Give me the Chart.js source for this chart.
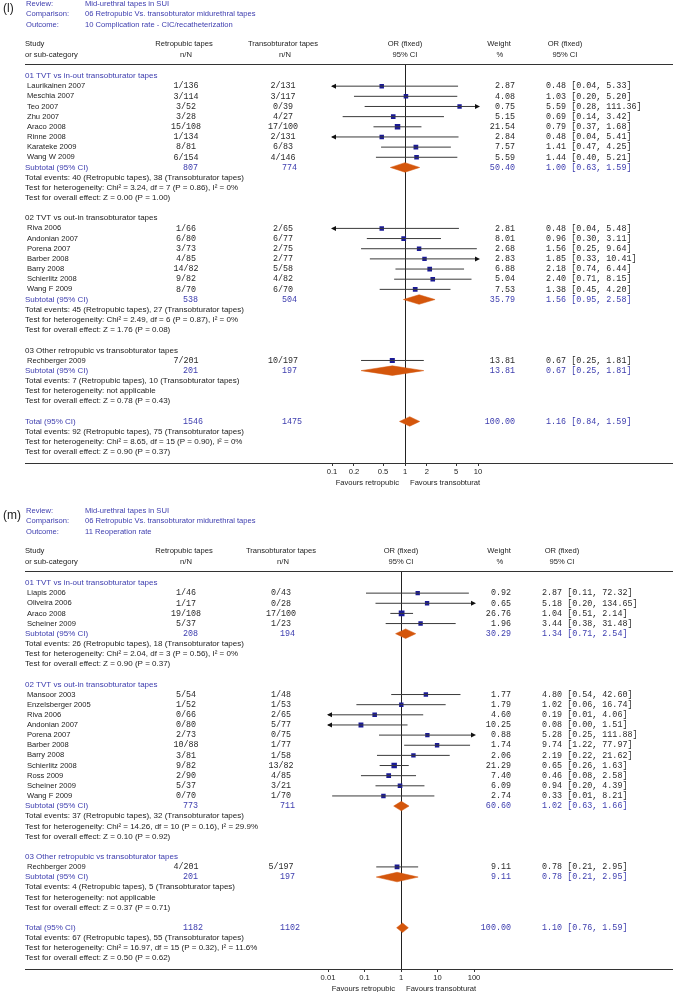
<!DOCTYPE html>
<html>
<head>
<meta charset="utf-8">
<script src="https://cdn.jsdelivr.net/npm/chart.js@4.4.0/dist/chart.umd.min.js"></script>
<style>
  html, body { margin: 0; padding: 0; background: #fff; }
  #wrap { position: relative; width: 673px; height: 992px; }
  canvas { position: absolute; left: 0; top: 0; }
</style>
</head>
<body>
<div id="wrap">
  <canvas id="plotL" width="673" height="992"></canvas>
  <canvas id="plotM" width="673" height="992"></canvas>
</div>
<script>
// ---------- panel (l): complication rate - CIC/recatheterization ----------
const lGroupNames = ['01 TVT vs in-out transobturator tapes', '02 TVT vs out-in transobturator tapes', '03 Other retropubic vs transobturator tapes'];
const lStudyGroup = [0, 0, 0, 0, 0, 0, 0, 0, 1, 1, 1, 1, 1, 1, 1, 2];
const lStudies = ['Laurikainen 2007', 'Meschia 2007', 'Teo 2007', 'Zhu 2007', 'Araco 2008', 'Rinne 2008', 'Karateke 2009', 'Wang W 2009',
  'Riva 2006', 'Andonian 2007', 'Porena 2007', 'Barber 2008', 'Barry 2008', 'Schierlitz 2008', 'Wang F 2009', 'Rechberger 2009'];
const lRetro = ['1/136', '3/114', '3/52', '3/28', '15/108', '1/134', '8/81', '6/154', '1/66', '6/80', '3/73', '4/85', '14/82', '9/82', '8/70', '7/201'];
const lTrans = ['2/131', '3/117', '0/39', '4/27', '17/100', '2/131', '6/83', '4/146', '2/65', '6/77', '2/75', '2/77', '5/58', '4/82', '6/70', '10/197'];
const lWeight = [2.87, 4.08, 0.75, 5.15, 21.54, 2.84, 7.57, 5.59, 2.81, 8.01, 2.68, 2.83, 6.88, 5.04, 7.53, 13.81];
const lOR = [0.48, 1.03, 5.59, 0.69, 0.79, 0.48, 1.41, 1.44, 0.48, 0.96, 1.56, 1.85, 2.18, 2.40, 1.38, 0.67];
const lLow = [0.04, 0.20, 0.28, 0.14, 0.37, 0.04, 0.47, 0.40, 0.04, 0.30, 0.25, 0.33, 0.74, 0.71, 0.45, 0.25];
const lHigh = [5.33, 5.20, 111.36, 3.42, 1.68, 5.41, 4.25, 5.21, 5.48, 3.11, 9.64, 10.41, 6.44, 8.15, 4.20, 1.81];
const lSubN1 = [807, 538, 201];
const lSubN2 = [774, 504, 197];
const lSubWeight = [50.40, 35.79, 13.81];
const lSubOR = [1.00, 1.56, 0.67];
const lSubLow = [0.63, 0.95, 0.25];
const lSubHigh = [1.59, 2.58, 1.81];
const lSubNotes = [
  ['Total events: 40 (Retropubic tapes), 38 (Transobturator tapes)', 'Test for heterogeneity: Chi\u00b2 = 3.24, df = 7 (P = 0.86), I\u00b2 = 0%', 'Test for overall effect: Z = 0.00 (P = 1.00)'],
  ['Total events: 45 (Retropubic tapes), 27 (Transobturator tapes)', 'Test for heterogeneity: Chi\u00b2 = 2.49, df = 6 (P = 0.87), I\u00b2 = 0%', 'Test for overall effect: Z = 1.76 (P = 0.08)'],
  ['Total events: 7 (Retropubic tapes), 10 (Transobturator tapes)', 'Test for heterogeneity: not applicable', 'Test for overall effect: Z = 0.78 (P = 0.43)']
];
const lTotal = [1546, 1475, 100.00, 1.16, 0.84, 1.59];
const lTotalNotes = ['Total events: 92 (Retropubic tapes), 75 (Transobturator tapes)', 'Test for heterogeneity: Chi\u00b2 = 8.65, df = 15 (P = 0.90), I\u00b2 = 0%', 'Test for overall effect: Z = 0.90 (P = 0.37)'];
const lTicks = [0.1, 0.2, 0.5, 1, 2, 5, 10];

// ---------- panel (m): reoperation rate ----------
const mGroupNames = ['01 TVT vs in-out transobturator tapes', '02 TVT vs out-in transobturator tapes', '03 Other retropubic vs transobturator tapes'];
const mStudyGroup = [0, 0, 0, 0, 1, 1, 1, 1, 1, 1, 1, 1, 1, 1, 1, 2];
const mStudies = ['Liapis 2006', 'Oliveira 2006', 'Araco 2008', 'Scheiner 2009',
  'Mansoor 2003', 'Enzelsberger 2005', 'Riva 2006', 'Andonian 2007', 'Porena 2007', 'Barber 2008', 'Barry 2008', 'Schierlitz 2008', 'Ross 2009', 'Scheiner 2009', 'Wang F 2009',
  'Rechberger 2009'];
const mRetro = ['1/46', '1/17', '19/108', '5/37', '5/54', '1/52', '0/66', '0/80', '2/73', '10/88', '3/81', '9/82', '2/90', '5/37', '0/70', '4/201'];
const mTrans = ['0/43', '0/28', '17/100', '1/23', '1/48', '1/53', '2/65', '5/77', '0/75', '1/77', '1/58', '13/82', '4/85', '3/21', '1/70', '5/197'];
const mWeight = [0.92, 0.65, 26.76, 1.96, 1.77, 1.79, 4.60, 10.25, 0.88, 1.74, 2.06, 21.29, 7.40, 6.09, 2.74, 9.11];
const mOR = [2.87, 5.18, 1.04, 3.44, 4.80, 1.02, 0.19, 0.08, 5.28, 9.74, 2.19, 0.65, 0.46, 0.94, 0.33, 0.78];
const mLow = [0.11, 0.20, 0.51, 0.38, 0.54, 0.06, 0.009, 0.004, 0.25, 1.22, 0.22, 0.26, 0.08, 0.20, 0.013, 0.21];
const mHigh = [72.32, 134.65, 2.14, 31.48, 42.60, 16.74, 4.06, 1.51, 111.88, 77.97, 21.62, 1.63, 2.58, 4.39, 8.21, 2.95];
const mSubN1 = [208, 773, 201];
const mSubN2 = [194, 711, 197];
const mSubWeight = [30.29, 60.60, 9.11];
const mSubOR = [1.34, 1.02, 0.78];
const mSubLow = [0.71, 0.63, 0.21];
const mSubHigh = [2.54, 1.66, 2.95];
const mSubNotes = [
  ['Total events: 26 (Retropubic tapes), 18 (Transobturator tapes)', 'Test for heterogeneity: Chi\u00b2 = 2.04, df = 3 (P = 0.56), I\u00b2 = 0%', 'Test for overall effect: Z = 0.90 (P = 0.37)'],
  ['Total events: 37 (Retropubic tapes), 32 (Transobturator tapes)', 'Test for heterogeneity: Chi\u00b2 = 14.26, df = 10 (P = 0.16), I\u00b2 = 29.9%', 'Test for overall effect: Z = 0.10 (P = 0.92)'],
  ['Total events: 4 (Retropubic tapes), 5 (Transobturator tapes)', 'Test for heterogeneity: not applicable', 'Test for overall effect: Z = 0.37 (P = 0.71)']
];
const mTotal = [1182, 1102, 100.00, 1.10, 0.76, 1.59];
const mTotalNotes = ['Total events: 67 (Retropubic tapes), 55 (Transobturator tapes)', 'Test for heterogeneity: Chi\u00b2 = 16.97, df = 15 (P = 0.32), I\u00b2 = 11.6%', 'Test for overall effect: Z = 0.50 (P = 0.62)'];
const mTicks = [0.01, 0.1, 1, 10, 100];

const W = 673, H = 992;
const BLUE = '#3c3cae', INK = '#222', NUM = '#2a2a2a', NAVY = '#1a1a96', ORANGE = '#d4560c', LINE = '#3a3a3a';
const SANS = '"Liberation Sans", Arial, sans-serif';
const MONO = '"Liberation Mono", "Courier New", monospace';

const panelL = {
  canvas: 'plotL', letter: '(l)', outcome: '10 Complication rate - CIC/recatheterization',
  groupNames: lGroupNames, groupBlue: [true, false, false], studyGroup: lStudyGroup, studies: lStudies,
  retro: lRetro, trans: lTrans, weight: lWeight, or: lOR, low: lLow, high: lHigh,
  subN1: lSubN1, subN2: lSubN2, subWeight: lSubWeight, subOR: lSubOR, subLow: lSubLow, subHigh: lSubHigh,
  subNotes: lSubNotes, total: lTotal, totalNotes: lTotalNotes, ticks: lTicks, xMin: 0.1, xMax: 10,
  row0: 76, rowH: 10.16, axisY: 463, plotLeft: 332, plotRight: 478,
  colRetro: 186, colTrans: 283, colSub1: 183, colSub2: 282, colWeight: 515, colCI: 546, colWeightHead: 499, colCIHead: 565
};
const panelM = {
  canvas: 'plotM', letter: '(m)', outcome: '11 Reoperation rate',
  groupNames: mGroupNames, groupBlue: [true, true, true], studyGroup: mStudyGroup, studies: mStudies,
  retro: mRetro, trans: mTrans, weight: mWeight, or: mOR, low: mLow, high: mHigh,
  subN1: mSubN1, subN2: mSubN2, subWeight: mSubWeight, subOR: mSubOR, subLow: mSubLow, subHigh: mSubHigh,
  subNotes: mSubNotes, total: mTotal, totalNotes: mTotalNotes, ticks: mTicks, xMin: 0.01, xMax: 100,
  row0: 583, rowH: 10.14, axisY: 969, plotLeft: 328, plotRight: 474,
  colRetro: 186, colTrans: 281, colSub1: 183, colSub2: 280, colWeight: 511, colCI: 542, colWeightHead: 499, colCIHead: 562
};

function layoutRows(p) {
  const rows = [];
  let r = 0;
  p.groupNames.forEach((g, gi) => {
    rows.push({ kind: 'group', gi, y: r++ });
    p.studies.forEach((s, i) => { if (p.studyGroup[i] === gi) rows.push({ kind: 'study', i, y: r++ }); });
    rows.push({ kind: 'sub', gi, y: r++ });
    p.subNotes[gi].forEach(t => rows.push({ kind: 'note', text: t, y: r++ }));
    r++;
  });
  rows.push({ kind: 'total', y: r++ });
  p.totalNotes.forEach(t => rows.push({ kind: 'note', text: t, y: r++ }));
  return rows;
}

function ciText(or, lo, hi) {
  return or.toFixed(2) + ' [' + lo.toFixed(2) + ', ' + hi.toFixed(2) + ']';
}

function drawPanel(p) {
  const rows = layoutRows(p);
  const headLineY = p.row0 - 11.5;
  const yMin = (headLineY - p.row0) / p.rowH;
  const yMax = (p.axisY - p.row0) / p.rowH;
  const clamp = v => Math.min(p.xMax, Math.max(p.xMin, v));

  const studyRows = rows.filter(r => r.kind === 'study');
  const ciData = [];
  studyRows.forEach(r => {
    ciData.push({ x: clamp(p.low[r.i]), y: r.y }, { x: clamp(p.high[r.i]), y: r.y }, { x: clamp(p.high[r.i]), y: null });
  });

  const diamonds = [];
  rows.filter(r => r.kind === 'sub' || r.kind === 'total').forEach(r => {
    const or = r.kind === 'sub' ? p.subOR[r.gi] : p.total[3];
    const lo = r.kind === 'sub' ? p.subLow[r.gi] : p.total[4];
    const hi = r.kind === 'sub' ? p.subHigh[r.gi] : p.total[5];
    const h = 0.47;
    diamonds.push({
      type: 'scatter', showLine: true, fill: 'shape', pointRadius: 0, borderWidth: 0.5,
      borderColor: ORANGE, backgroundColor: ORANGE,
      data: [{ x: lo, y: r.y }, { x: or, y: r.y - h }, { x: hi, y: r.y }, { x: or, y: r.y + h }, { x: lo, y: r.y }]
    });
  });

  const textPlugin = {
    id: 'forestText',
    afterDatasetsDraw(chart) {
      const ctx = chart.ctx, xs = chart.scales.x, ys = chart.scales.y;
      // arrow heads for intervals that leave the axis range
      ctx.save();
      ctx.fillStyle = '#111';
      studyRows.forEach(r => {
        const py = ys.getPixelForValue(r.y);
        if (p.low[r.i] < p.xMin) {
          const px = xs.getPixelForValue(p.xMin);
          ctx.beginPath(); ctx.moveTo(px - 1, py); ctx.lineTo(px + 4, py - 2.5); ctx.lineTo(px + 4, py + 2.5); ctx.closePath(); ctx.fill();
        }
        if (p.high[r.i] > p.xMax) {
          const px = xs.getPixelForValue(p.xMax);
          ctx.beginPath(); ctx.moveTo(px + 2, py); ctx.lineTo(px - 3, py - 2.5); ctx.lineTo(px - 3, py + 2.5); ctx.closePath(); ctx.fill();
        }
      });
      ctx.restore();
    },
    afterDraw(chart) {
      const ctx = chart.ctx, xs = chart.scales.x, ys = chart.scales.y;
      const txt = (s, x, y, align, font, color) => {
        ctx.font = font; ctx.fillStyle = color; ctx.textAlign = align; ctx.fillText(s, x, y);
      };
      const sans = '7.6px ' + SANS, note = '8px ' + SANS, mono = '8.4px ' + MONO;
      const center = xs.getPixelForValue(1);
      ctx.save();
      ctx.textBaseline = 'middle';
      // title block
      txt(p.letter, 3, p.row0 - 67, 'left', '12px ' + SANS, INK);
      txt('Review:', 26, p.row0 - 72.5, 'left', sans, BLUE);
      txt('Mid-urethral tapes in SUI', 85, p.row0 - 72.5, 'left', sans, BLUE);
      txt('Comparison:', 26, p.row0 - 62, 'left', sans, BLUE);
      txt('06 Retropubic Vs. transobturator midurethral tapes', 85, p.row0 - 62, 'left', sans, BLUE);
      txt('Outcome:', 26, p.row0 - 51.5, 'left', sans, BLUE);
      txt(p.outcome, 85, p.row0 - 51.5, 'left', sans, BLUE);
      // column headers
      const h1 = p.row0 - 32, h2 = p.row0 - 21.5;
      txt('Study', 25, h1, 'left', sans, INK);
      txt('or sub-category', 25, h2, 'left', sans, INK);
      txt('Retropubic tapes', p.colRetro - 2, h1, 'center', sans, INK);
      txt('n/N', p.colRetro, h2, 'center', sans, INK);
      txt('Transobturator tapes', p.colTrans, h1, 'center', sans, INK);
      txt('n/N', p.colTrans + 2, h2, 'center', sans, INK);
      txt('OR (fixed)', center, h1, 'center', sans, INK);
      txt('95% CI', center, h2, 'center', sans, INK);
      txt('Weight', p.colWeightHead, h1, 'center', sans, INK);
      txt('%', p.colWeightHead + 1, h2, 'center', sans, INK);
      txt('OR (fixed)', p.colCIHead, h1, 'center', sans, INK);
      txt('95% CI', p.colCIHead, h2, 'center', sans, INK);
      // full width rules
      ctx.strokeStyle = '#333'; ctx.lineWidth = 1;
      const hy = Math.round(ys.getPixelForValue(yMin)) - 0.5;
      const by = Math.round(chart.chartArea.bottom) + 0.5;
      ctx.beginPath(); ctx.moveTo(25, hy); ctx.lineTo(W, hy); ctx.moveTo(25, by); ctx.lineTo(W, by); ctx.stroke();
      // rows
      rows.forEach(r => {
        const y = ys.getPixelForValue(r.y);
        if (r.kind === 'group') {
          txt(p.groupNames[r.gi], 25, y, 'left', note, p.groupBlue[r.gi] ? BLUE : INK);
        } else if (r.kind === 'study') {
          txt(p.studies[r.i], 27, y, 'left', sans, INK);
          txt(p.retro[r.i], p.colRetro, y, 'center', mono, NUM);
          txt(p.trans[r.i], p.colTrans, y, 'center', mono, NUM);
          txt(p.weight[r.i].toFixed(2), p.colWeight, y, 'right', mono, NUM);
          txt(ciText(p.or[r.i], p.low[r.i], p.high[r.i]), p.colCI, y, 'left', mono, NUM);
        } else if (r.kind === 'sub') {
          txt('Subtotal (95% CI)', 25, y, 'left', note, BLUE);
          txt(String(p.subN1[r.gi]), p.colSub1, y, 'left', mono, BLUE);
          txt(String(p.subN2[r.gi]), p.colSub2, y, 'left', mono, BLUE);
          txt(p.subWeight[r.gi].toFixed(2), p.colWeight, y, 'right', mono, BLUE);
          txt(ciText(p.subOR[r.gi], p.subLow[r.gi], p.subHigh[r.gi]), p.colCI, y, 'left', mono, BLUE);
        } else if (r.kind === 'total') {
          txt('Total (95% CI)', 25, y, 'left', note, BLUE);
          txt(String(p.total[0]), p.colSub1, y, 'left', mono, BLUE);
          txt(String(p.total[1]), p.colSub2, y, 'left', mono, BLUE);
          txt(p.total[2].toFixed(2), p.colWeight, y, 'right', mono, BLUE);
          txt(ciText(p.total[3], p.total[4], p.total[5]), p.colCI, y, 'left', mono, BLUE);
        } else {
          txt(r.text, 25, y, 'left', note, INK);
        }
      });
      // favours labels
      txt('Favours retropubic', center - 6, p.axisY + 20, 'right', sans, INK);
      txt('Favours transobturat', center + 5, p.axisY + 20, 'left', sans, INK);
      ctx.restore();
    }
  };

  new Chart(document.getElementById(p.canvas), {
    type: 'scatter',
    data: {
      datasets: [
        {
          type: 'scatter', showLine: true, spanGaps: false, pointRadius: 0,
          borderColor: LINE, borderWidth: 1, data: ciData
        },
        ...diamonds,
        {
          type: 'scatter',
          data: studyRows.map(r => ({ x: p.or[r.i], y: r.y })),
          pointStyle: 'rect',
          pointRadius: studyRows.map(r => (4.3 + p.weight[r.i] * 0.055) / Math.SQRT2),
          backgroundColor: NAVY, borderWidth: 0
        }
      ]
    },
    options: {
      responsive: false,
      animation: false,
      events: [],
      layout: { padding: { left: p.plotLeft, right: W - p.plotRight, top: headLineY, bottom: H - p.axisY - 14 } },
      plugins: { legend: { display: false }, tooltip: { enabled: false } },
      scales: {
        x: {
          type: 'logarithmic', min: p.xMin, max: p.xMax, position: 'bottom',
          afterBuildTicks: s => { s.ticks = p.ticks.map(v => ({ value: v })); },
          afterFit: s => { s.height = 14; },
          ticks: { callback: v => String(v), font: { family: SANS, size: 7.6 }, color: INK, padding: 1, maxRotation: 0, autoSkip: false },
          grid: {
            color: c => (c.tick && c.tick.value === 1) ? '#222' : 'rgba(0,0,0,0)',
            tickColor: '#333', tickLength: 3, drawTicks: true, lineWidth: 1
          },
          border: { display: true, color: '#333', width: 1 }
        },
        y: { type: 'linear', reverse: true, min: yMin, max: yMax, display: false }
      }
    },
    plugins: [textPlugin]
  });
}

drawPanel(panelL);
drawPanel(panelM);
</script>
</body>
</html>
